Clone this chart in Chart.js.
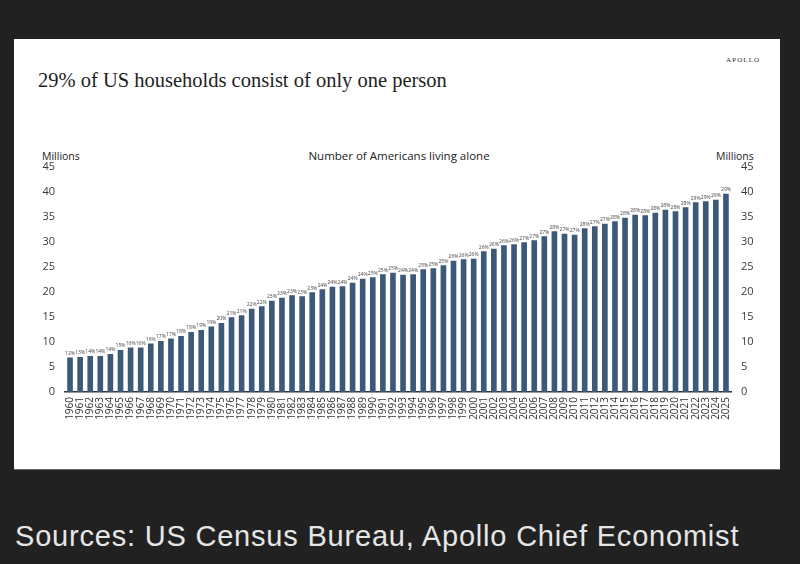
<!DOCTYPE html>
<html>
<head>
<meta charset="utf-8">
<script src="https://cdn.jsdelivr.net/npm/chart.js@4.4.1/dist/chart.umd.min.js"></script>
<style>
  html, body { margin: 0; padding: 0; }
  body { width: 800px; height: 564px; background: #212121; position: relative; overflow: hidden; }
  #panel { position: absolute; left: 14px; top: 39px; width: 766px; height: 430px; background: #fff; border-bottom: 1px solid #6a6a6a; }
  .txt { position: absolute; white-space: nowrap; line-height: 1; }
  #title { left: 38px; top: 70px; font-family: "Liberation Serif", "DejaVu Serif", serif; font-size: 20.5px; color: #1e1e1e; }
  #brand { left: 726px; top: 57px; font-family: "Liberation Serif", serif; font-size: 7px; letter-spacing: 1.1px; color: #333; }
  .units { top: 151px; font-family: "Open Sans", sans-serif; font-size: 10.5px; color: #222; }
  #chartTitle { left: 399px; top: 150px; transform: translateX(-50%); font-family: "Open Sans", sans-serif; font-size: 11.5px; color: #222; }
  #source { left: 15px; top: 522px; font-family: "Liberation Sans", Arial, sans-serif; font-size: 29px; letter-spacing: 0.8px; color: #e6e6e6; }
  #chart { position: absolute; left: 20px; top: 150px; }
</style>
</head>
<body>
<div id="panel"></div>
<div class="txt" id="title">29% of US households consist of only one person</div>
<div class="txt" id="brand">APOLLO</div>
<div class="txt units" style="left:42px">Millions</div>
<div class="txt units" style="left:716px">Millions</div>
<div class="txt" id="chartTitle">Number of Americans living alone</div>
<canvas id="chart" width="760" height="284"></canvas>
<div class="txt" id="source">Sources: US Census Bureau, Apollo Chief Economist</div>

<script>
// categories
const years = [
  '1960','1961','1962','1963','1964','1965','1966','1967','1968','1969',
  '1970','1971','1972','1973','1974','1975','1976','1977','1978','1979',
  '1980','1981','1982','1983','1984','1985','1986','1987','1988','1989',
  '1990','1991','1992','1993','1994','1995','1996','1997','1998','1999',
  '2000','2001','2002','2003','2004','2005','2006','2007','2008','2009',
  '2010','2011','2012','2013','2014','2015','2016','2017','2018','2019',
  '2020','2021','2022','2023','2024','2025'
];

// people living alone, millions
const livingAlone = [
  6.9, 7.0, 7.2, 7.2, 7.6, 8.4, 8.9, 8.9, 9.7, 10.2,
  10.7, 11.2, 12.0, 12.4, 13.1, 13.8, 14.9, 15.3, 16.6, 17.1,
  18.2, 18.8, 19.3, 19.1, 19.9, 20.5, 21.0, 21.1, 21.8, 22.6,
  22.9, 23.5, 23.8, 23.4, 23.5, 24.5, 24.7, 25.3, 26.2, 26.5,
  26.6, 28.1, 28.6, 29.3, 29.5, 29.9, 30.3, 31.1, 32.1, 31.6,
  31.4, 32.7, 33.1, 33.6, 34.1, 34.8, 35.4, 35.3, 35.8, 36.4,
  36.1, 36.9, 37.9, 38.1, 38.4, 39.6
];

// share of households with one person
const shareLabels = [
  '12%','13%','14%','14%','14%','15%','16%','16%','16%','17%',
  '17%','18%','18%','19%','19%','20%','21%','21%','22%','22%',
  '23%','23%','23%','23%','23%','24%','24%','24%','24%','24%',
  '25%','25%','25%','24%','24%','25%','25%','25%','26%','26%',
  '26%','26%','26%','26%','26%','27%','27%','27%','28%','27%',
  '27%','28%','27%','27%','28%','28%','28%','28%','28%','28%',
  '28%','28%','29%','29%','29%','29%'
];

// little % label over every bar
const shareLabelPlugin = {
  id: 'shareLabels',
  afterDatasetsDraw(chart) {
    const ctx = chart.ctx;
    const meta = chart.getDatasetMeta(0);
    ctx.save();
    ctx.font = '5px "Open Sans", sans-serif';
    ctx.fillStyle = '#444';
    ctx.textAlign = 'center';
    ctx.textBaseline = 'bottom';
    meta.data.forEach((bar, i) => {
      ctx.fillText(shareLabels[i], bar.x, bar.y - 1.5);
    });
    ctx.restore();
  }
};

const tickFont = { family: '"Open Sans", sans-serif', size: 11 };

new Chart(document.getElementById('chart').getContext('2d'), {
  type: 'bar',
  data: {
    labels: years,
    datasets: [{
      data: livingAlone,
      backgroundColor: '#3c5979',
      barPercentage: 0.56,
      categoryPercentage: 1.0,
      yAxisID: 'y'
    }]
  },
  options: {
    responsive: false,
    animation: false,
    devicePixelRatio: 1,
    layout: { padding: { top: 16, bottom: 0, left: 0, right: 0 } },
    plugins: {
      legend: { display: false },
      tooltip: { enabled: false }
    },
    scales: {
      x: {
        grid: { display: false, drawTicks: false },
        border: { display: true, color: '#333', width: 1.5 },
        ticks: {
          font: { family: '"Open Sans", sans-serif', size: 10 },
          color: '#333',
          minRotation: 90,
          maxRotation: 90,
          autoSkip: false,
          padding: 5
        },
        afterFit(scale) { scale.height = 42; }
      },
      y: {
        position: 'left',
        min: 0,
        max: 45,
        grid: { display: false, drawTicks: false },
        border: { display: false },
        ticks: { stepSize: 5, font: tickFont, color: '#3a3a3a', padding: 10 },
        afterFit(scale) { scale.width = 45; }
      },
      y2: {
        position: 'right',
        min: 0,
        max: 45,
        grid: { display: false, drawTicks: false },
        border: { display: false },
        ticks: { stepSize: 5, font: tickFont, color: '#3a3a3a', padding: 10 },
        afterFit(scale) { scale.width = 49; }
      }
    }
  },
  plugins: [shareLabelPlugin]
});
</script>
</body>
</html>
